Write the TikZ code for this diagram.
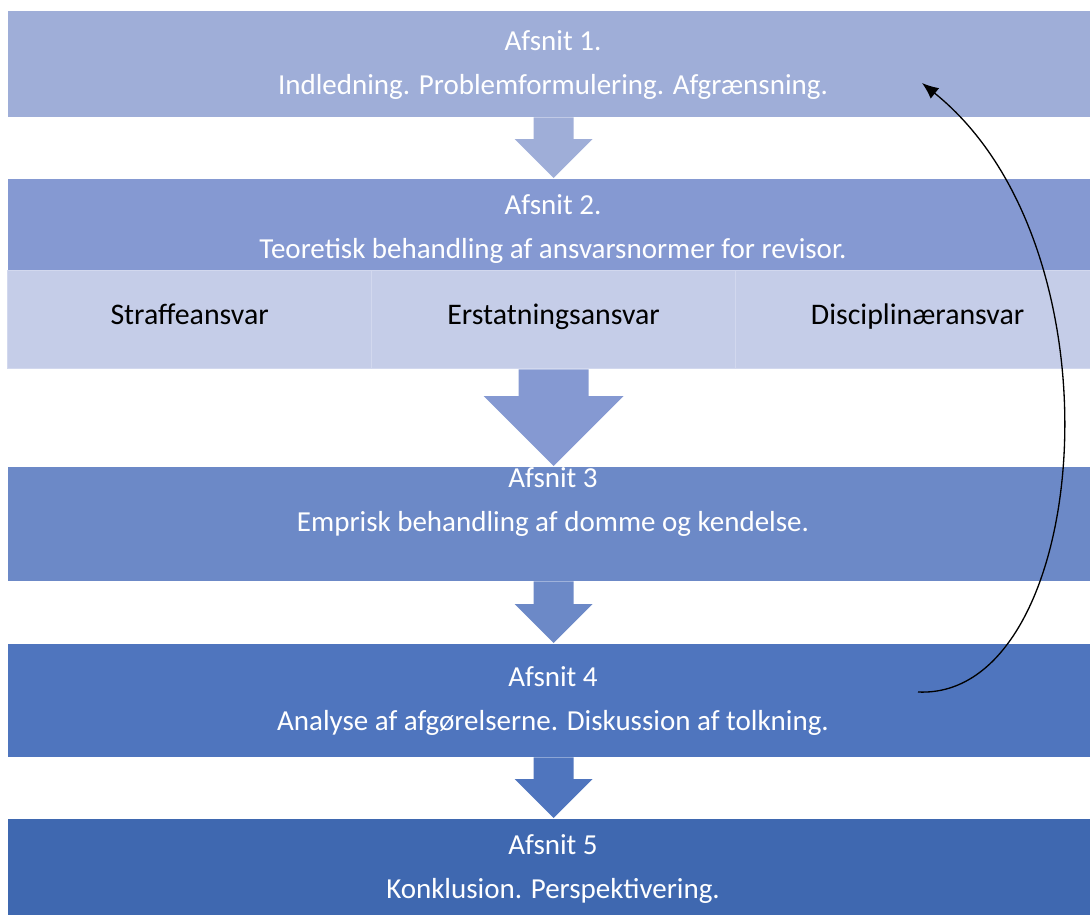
\documentclass[tikz,border=0pt]{standalone}
\usepackage{fontspec}
\setmainfont{Carlito}
\usetikzlibrary{arrows.meta,positioning,calc}
\definecolor{secA}{HTML}{9FAED8}
\definecolor{secB}{HTML}{8599D2}
\definecolor{secC}{HTML}{6C89C7}
\definecolor{secD}{HTML}{4F75BE}
\definecolor{secE}{HTML}{3F68B0}
\definecolor{subfill}{HTML}{C5CDE8}
\definecolor{subline}{HTML}{D2D8EE}
% block arrow: from node, to node, shaft half width, head half width, colour
\newcommand{\flowarrow}[5]{%
  \fill[#5] ($(#1.south)+(-#3,0)$) -- ($(#1.south |- #2.north)+(-#3,-#4)$)
    -- ($(#1.south |- #2.north)+(-#4,-#4)$) -- (#1.south |- #2.north)
    -- ($(#1.south |- #2.north)+(#4,-#4)$) -- ($(#1.south |- #2.north)+(#3,-#4)$)
    -- ($(#1.south)+(#3,0)$) -- cycle;}

\begin{document}
\begin{tikzpicture}[x=0.02cm,y=-0.02cm,>={Latex[length=3.3mm,width=2.7mm]},line width=0.75pt,
        sect/.style={rectangle,inner sep=0pt,minimum width=21.84cm,anchor=north west},
        part/.style={rectangle,inner sep=0pt,minimum width=7.28cm,minimum height=1.96cm,
          anchor=north west,fill=subfill,draw=subline,text height=1.5ex,text depth=.25ex,
          font=\fontsize{17}{20}\selectfont},
        lbl/.style={text=white,align=center,font=\fontsize{16.5}{24.5}\selectfont}]
        \useasboundingbox (0,0) rectangle (1090,914);
        \node[sect,fill=secA,minimum height=2.12cm] at (7,10) (s1) {};
        \node[sect,fill=secB,minimum height=1.84cm] at (7,178) (s2) {};
        \node[part] at (7,270) (straf) {Straffeansvar};
        \node[part] at (371,270) (erst) {Erstatningsansvar};
        \node[part] at (735,270) (disc) {Disciplinæransvar};
        \node[sect,fill=secC,minimum height=2.28cm] at (7,466) (s3) {};
        \node[sect,fill=secD,minimum height=2.26cm] at (7,643) (s4) {};
        \node[sect,fill=secE,minimum height=2.24cm] at (7,818) (s5) {};
        \node[lbl] at (553,65) (t1) {Afsnit 1.\\Indledning. Problemformulering. Afgrænsning.};
        \node[lbl] at (553,229) (t2) {Afsnit 2.\\Teoretisk behandling af ansvarsnormer for revisor.};
        \node[lbl] at (553,502) (t3) {Afsnit 3\\Emprisk behandling af domme og kendelse.};
        \node[lbl] at (553,701) (t4) {Afsnit 4\\Analyse af afgørelserne. Diskussion af tolkning.};
        \node[lbl] at (553,869) (t5) {Afsnit 5\\Konklusion. Perspektivering.};
        \flowarrow{s1}{s2}{20}{39}{secA}
        \flowarrow{erst}{s3}{35}{70}{secB}
        \flowarrow{s3}{s4}{20}{39}{secC}
        \flowarrow{s4}{s5}{20}{39}{secD}
        \coordinate (back) at (918,692);
        \coordinate (top) at (922,83);
        \draw[->] (back) .. controls (1090,700) and (1130,250) .. (top);
      \end{tikzpicture}
\end{document}
